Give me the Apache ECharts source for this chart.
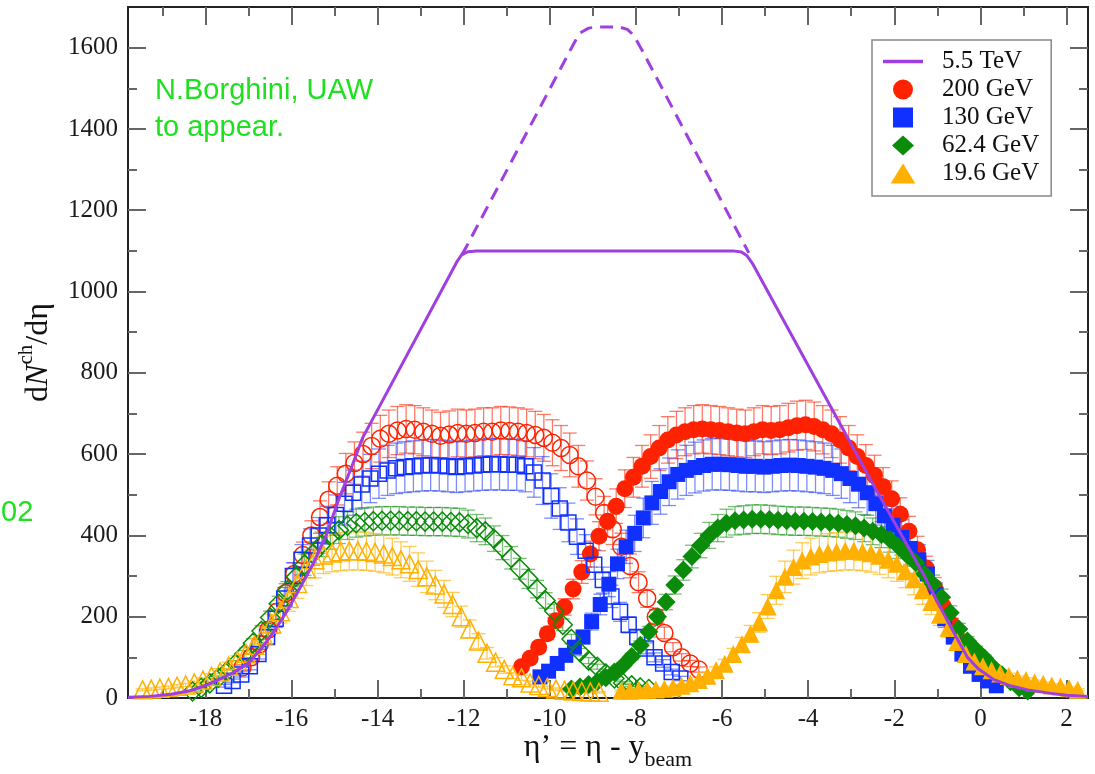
<!DOCTYPE html>
<html>
<head>
<meta charset="utf-8">
<title>dN/deta vs eta - y_beam</title>
<script src="https://cdn.jsdelivr.net/npm/echarts@6.0.0/dist/echarts.min.js"></script>
<style>
  html, body { margin: 0; padding: 0; background: #fff; }
  #chart { width: 1095px; height: 774px; }
</style>
</head>
<body>
<div id="chart"></div>
<script>
// eta bin centres of the measured distributions (0.2 wide bins)
const etaBins = [-5.3,-5.1,-4.9,-4.7,-4.5,-4.3,-4.1,-3.9,-3.7,-3.5,-3.3,-3.1,-2.9,-2.7,-2.5,-2.3,-2.1,-1.9,-1.7,-1.5,-1.3,-1.1,-0.9,-0.7,-0.5,-0.3,-0.1,
  0.1,0.3,0.5,0.7,0.9,1.1,1.3,1.5,1.7,1.9,2.1,2.3,2.5,2.7,2.9,3.1,3.3,3.5,3.7,3.9,4.1,4.3,4.5,4.7,4.9,5.1,5.3];

const energies = ['200 GeV', '130 GeV', '62.4 GeV', '19.6 GeV'];
const yBeam = [5.36, 4.93, 4.2, 3.04];
const yBeamLHC = 8.6;
const relErr = [0.09, 0.11, 0.08, 0.13];

// filled markers: eta' = eta - y_beam ; open markers: mirrored side
const filled200 = [77,98,125,158,190,224,268,310,354,398,435,472,515,543,570,594,615,635,647,655,660,662,660,658,655,652,650,
  655,660,658,660,665,670,672,668,660,650,635,615,594,572,548,520,490,452,410,365,320,272,225,180,140,105,78];
const open200 = [75,100,132,168,212,258,305,352,400,445,488,522,552,578,600,620,638,650,658,662,660,655,650,645,648,652,650,
  652,655,655,658,657,655,652,647,640,628,615,598,570,535,495,455,415,372,325,285,245,200,160,125,100,85,70];
const filled130 = [52,66,85,105,125,150,188,230,280,330,372,405,443,480,508,532,550,560,567,572,575,575,574,572,570,570,568,
  570,572,573,572,570,568,565,560,552,540,526,505,478,448,425,395,368,340,305,255,195,150,108,78,58,42,30];
const open130 = [30,42,58,78,108,150,195,245,300,340,375,400,425,450,478,505,525,540,552,560,565,568,570,572,573,572,570,
  568,570,572,574,575,575,574,574,570,555,535,497,466,432,397,362,328,290,250,212,180,150,122,100,85,64,48];
const filled62 = [22,27,33,40,50,64,80,102,130,163,200,236,278,315,348,375,400,418,430,436,438,440,440,439,437,436,435,
  435,434,433,432,430,427,424,418,410,402,390,373,352,333,305,280,248,210,170,140,118,98,75,57,40,25,17];
const open62 = [16,25,36,50,66,85,108,135,165,198,232,265,298,328,355,378,398,413,424,430,433,435,436,436,436,435,435,
  434,434,434,433,432,428,418,410,392,370,345,318,293,268,240,214,180,145,113,92,77,60,48,37,31,26,22];
const filled19 = [18,18,19,20,21,23,26,30,36,44,55,68,84,108,132,158,186,225,265,298,322,338,348,354,358,360,362,
  362,360,356,350,340,330,312,292,265,236,205,172,138,108,90,78,68,60,54,48,44,39,35,31,28,24,20];
const open19 = [20,22,24,26,29,32,37,44,53,64,78,92,110,130,155,182,212,245,282,318,340,352,357,360,362,362,361,
  358,354,348,340,330,316,298,278,256,230,200,170,140,110,88,70,55,50,37,31,26,22,19,17,16,15,14];

const filledVals = [filled200, filled130, filled62, filled19];
const openVals = [open200, open130, open62, open19];

// 5.5 TeV extrapolation
const lhcSolid = [[-19.8,2],[-19.3,4],[-18.8,9],[-18.4,17],[-18.1,27],[-17.8,40],[-17.4,60],[-17.0,86],[-16.7,122],
  [-16.4,165],[-16.1,215],[-15.8,272],[-15.5,330],[-15.2,400],[-14.9,490],[-14.6,570],[-14.35,640],[-12.15,1075],
  [-12.05,1090],[-11.9,1098],[-11.7,1100],[-5.75,1100],[-5.55,1097],[-5.42,1088],[-5.3,1070],[-2.55,537],[-1.3,300],
  [-1.05,248],[-0.8,197],[-0.55,148],[-0.3,100],[-0.05,72],[0.3,46],[0.7,30],[1.1,20],[1.6,12],[2.0,7],[2.5,4]];
const lhcDashed = [[-12.05,1090],[-11.95,1108],[-9.44,1611],[-9.3,1636],[-9.1,1648],[-8.9,1651],[-8.4,1651],
  [-8.2,1645],[-8.05,1630],[-7.85,1592],[-5.38,1095]];

const xMajor = [-18,-16,-14,-12,-10,-8,-6,-4,-2,0,2];
const xMinor = [-19,-17,-15,-13,-11,-9,-7,-5,-3,-1,1];
const yMajor = [0,200,400,600,800,1000,1200,1400,1600];
const yMinor = [100,300,500,700,900,1100,1300,1500];

const colors = ['#ff2200', '#1030ff', '#0a8c0a', '#ffb000'];
const errColors = ['rgba(255,34,0,0.6)', 'rgba(16,48,255,0.55)', 'rgba(10,140,10,0.55)', 'rgba(255,176,0,0.65)'];
const symbols = ['circle', 'rect', 'diamond', 'triangle'];
const symbolSizes = [17, 15, 19, 18];
// legend glyphs keep their own proportions
const legendIcons = ['circle', 'path://M0,0h18v18h-18z', 'path://M11,0L22,10L11,20L0,10z', 'path://M10.5,0L21,17L0,17z'];
const lhcColor = '#9f3fdf';
const serif = '"Liberation Serif", "Times New Roman", serif';

function points(vals, shift) {
  return vals.map((v, i) => [etaBins[i] - shift, v]);
}
function errBars(vals, shift, e) {
  return vals.map((v, i) => [etaBins[i] - shift, v * (1 - e), v * (1 + e)]);
}
function renderErr(params, api) {
  const x = api.value(0);
  const top = api.coord([x, api.value(2)]);
  const bot = api.coord([x, api.value(1)]);
  const half = 7;
  const style = { stroke: api.visual('color'), lineWidth: 1.3 };
  return {
    type: 'group',
    children: [
      { type: 'line', shape: { x1: top[0], y1: top[1], x2: bot[0], y2: bot[1] }, style },
      { type: 'line', shape: { x1: top[0] - half, y1: top[1], x2: top[0] + half, y2: top[1] }, style },
      { type: 'line', shape: { x1: bot[0] - half, y1: bot[1], x2: bot[0] + half, y2: bot[1] }, style }
    ]
  };
}

const series = [];
energies.forEach((name, k) => {
  const shiftFilled = yBeam[k];
  const shiftOpen = 2 * yBeamLHC - yBeam[k];
  [shiftOpen, shiftFilled].forEach((shift, j) => {
    series.push({
      name: name + (j ? ' err' : ' err open'),
      type: 'custom',
      renderItem: renderErr,
      itemStyle: { color: errColors[k] },
      encode: { x: 0, y: [1, 2] },
      data: errBars(j ? filledVals[k] : openVals[k], shift, relErr[k]),
      silent: true
    });
  });
  series.push({
    name: name + ' open',
    type: 'scatter',
    symbol: symbols[k],
    symbolSize: symbolSizes[k],
    itemStyle: { color: 'rgba(255,255,255,0)', borderColor: colors[k], borderWidth: 1.5, opacity: 1 },
    data: points(openVals[k], shiftOpen),
    silent: true
  });
  series.push({
    name: name,
    type: 'scatter',
    symbol: symbols[k],
    symbolSize: symbolSizes[k],
    itemStyle: { color: colors[k], opacity: 1 },
    data: points(filledVals[k], shiftFilled),
    silent: true
  });
});
series.push({
  name: '5.5 TeV peak',
  type: 'line',
  symbol: 'none',
  lineStyle: { color: lhcColor, width: 3, type: [13, 8] },
  data: lhcDashed,
  silent: true
});
series.push({
  name: '5.5 TeV',
  type: 'line',
  symbol: 'none',
  itemStyle: { color: lhcColor },
  lineStyle: { color: lhcColor, width: 3 },
  data: lhcSolid,
  silent: true
});

const lineStyle = { color: '#222', width: 2 };
const tickStyle = { color: '#666', width: 2 };
const labelStyle = { fontFamily: serif, fontSize: 25, color: '#1a1a1a', formatter: (v) => String(v) };

function xAxis(position, ticks, len, withLabels) {
  return {
    type: 'value', position, min: -19.8, max: 2.5,
    axisLine: { show: true, onZero: false, lineStyle },
    axisTick: { show: true, inside: true, length: len, customValues: ticks, lineStyle: tickStyle },
    axisLabel: withLabels ? Object.assign({ customValues: xMajor, margin: 9 }, labelStyle) : { show: false },
    splitLine: { show: false }
  };
}
function yAxis(position, ticks, len, withLabels) {
  return {
    type: 'value', position, min: 0, max: 1700,
    axisLine: { show: true, onZero: false, lineStyle },
    axisTick: { show: true, inside: true, length: len, customValues: ticks, lineStyle: tickStyle },
    axisLabel: withLabels ? Object.assign({ customValues: yMajor, margin: 10 }, labelStyle) : { show: false },
    splitLine: { show: false }
  };
}

const xAxes = [xAxis('bottom', xMajor, 18, true), xAxis('bottom', xMinor, 9, false),
  xAxis('top', xMajor, 18, false), xAxis('top', xMinor, 9, false)];
Object.assign(xAxes[0], {
  name: '{m|η’ = η - y}{s|beam}',
  nameLocation: 'middle',
  nameGap: 27,
  nameMoveOverlap: false,
  nameTextStyle: {
    rich: {
      m: { fontFamily: serif, fontSize: 32, lineHeight: 46, color: '#111' },
      s: { fontFamily: serif, fontSize: 22, lineHeight: 22, verticalAlign: 'bottom', color: '#111' }
    }
  }
});
const yAxes = [yAxis('left', yMajor, 18, true), yAxis('left', yMinor, 9, false),
  yAxis('right', yMajor, 18, false), yAxis('right', yMinor, 9, false)];
Object.assign(yAxes[0], {
  name: '{m|d}{n|N}{s|ch}{m|/dη}',
  nameLocation: 'middle',
  nameRotate: 90,
  nameGap: 66,
  nameMoveOverlap: false,
  nameTextStyle: {
    rich: {
      m: { fontFamily: serif, fontSize: 32, lineHeight: 46, color: '#111' },
      n: { fontFamily: serif, fontSize: 32, lineHeight: 46, fontStyle: 'italic', color: '#111' },
      s: { fontFamily: serif, fontSize: 21, lineHeight: 20, verticalAlign: 'top', color: '#111' }
    }
  }
});

const legendData = [{ name: '5.5 TeV', icon: 'path://M0,0h40v3.5h-40z' }].concat(
  energies.map((name, k) => ({ name, icon: legendIcons[k] })));

const chart = echarts.init(document.getElementById('chart'));
chart.setOption({
  animation: false,
  backgroundColor: '#fff',
  grid: { left: 128, top: 7, right: 7, bottom: 76, outerBoundsMode: 'none' },
  xAxis: xAxes,
  yAxis: yAxes,
  legend: {
    orient: 'vertical',
    left: 872,
    top: 40,
    data: legendData,
    itemWidth: 40,
    itemHeight: 20,
    itemGap: 3,
    symbolKeepAspect: true,
    padding: [9, 12, 10, 11],
    borderColor: '#888',
    borderWidth: 1.5,
    backgroundColor: '#fff',
    selectedMode: false,
    textStyle: { fontFamily: serif, fontSize: 25, color: '#111', lineHeight: 25, padding: [0, 0, 0, 14] }
  },
  graphic: [
    {
      type: 'text', left: 155, top: 72, silent: true,
      style: { text: 'N.Borghini, UAW\nto appear.', font: '29px "Liberation Sans", Arial, sans-serif', fill: '#1ee01e', lineHeight: 37 }
    },
    {
      type: 'text', left: 1, top: 494, silent: true,
      style: { text: '02', font: '29px "Liberation Sans", Arial, sans-serif', fill: '#1ee01e', lineHeight: 37 }
    }
  ],
  series
});
</script>
</body>
</html>
